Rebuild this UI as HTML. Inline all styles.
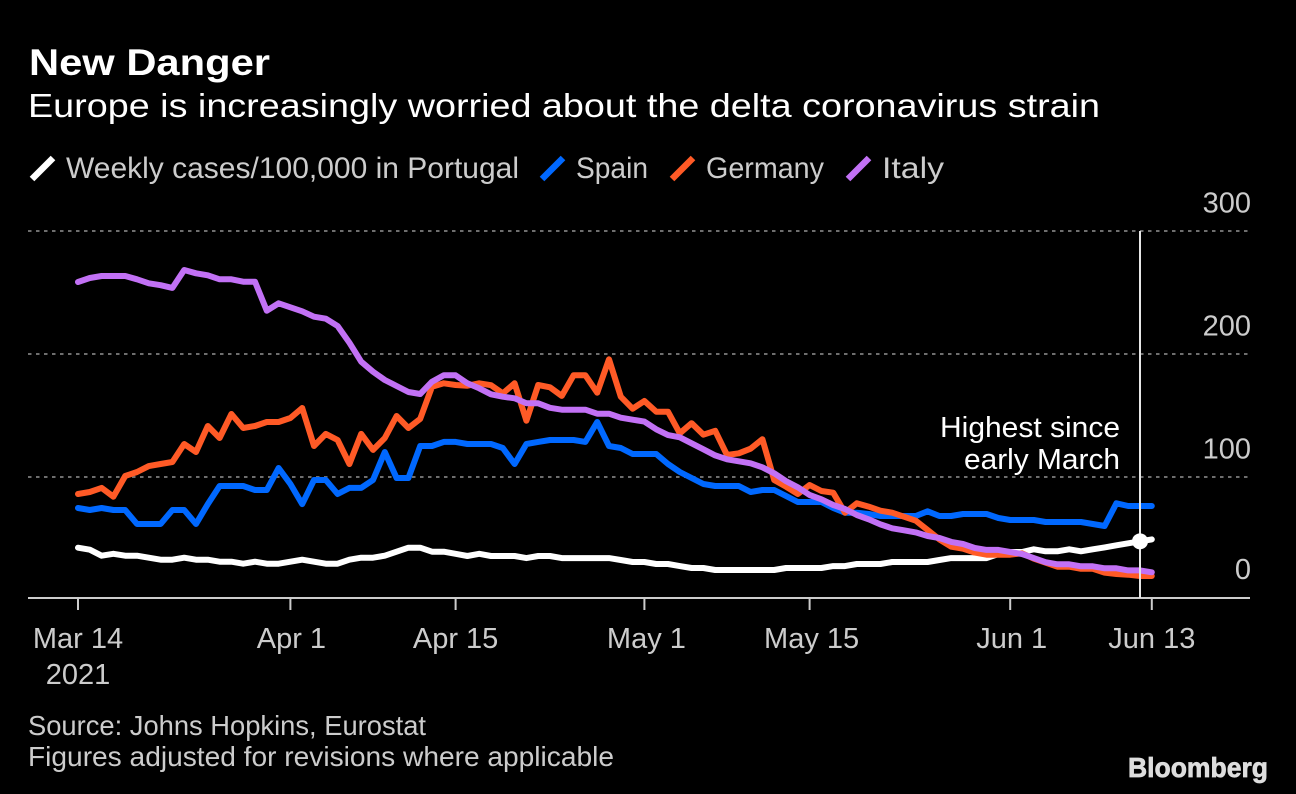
<!DOCTYPE html>
<html lang="en">
<head>
<meta charset="utf-8">
<title>New Danger</title>
<style>
html,body{margin:0;padding:0;background:#000;width:1296px;height:794px;overflow:hidden}
svg{display:block}
text{font-family:"Liberation Sans",sans-serif}
.ttl{font-size:37px;font-weight:700;fill:#fff}
.sub{font-size:33.5px;fill:#fff}
.lab{font-size:29.5px;fill:#ccc}
.tick{font-size:29px;fill:#ccc}
.ann{font-size:29px;fill:#fff}
.src{font-size:27.5px;fill:#ccc}
</style>
</head>
<body>
<svg id="chart" xmlns="http://www.w3.org/2000/svg" width="1296" height="794" viewBox="0 0 1296 794">
  <rect width="1296" height="794" fill="#000"/>
  <text class="ttl" x="29" y="75" textLength="241" lengthAdjust="spacingAndGlyphs">New Danger</text>
  <text class="sub" x="28" y="117" textLength="1072" lengthAdjust="spacingAndGlyphs">Europe is increasingly worried about the delta coronavirus strain</text>

  <line x1="32" y1="179" x2="53" y2="158" stroke="#fff" stroke-width="6.5"/>
  <text class="lab" x="66" y="178" textLength="453" lengthAdjust="spacingAndGlyphs">Weekly cases/100,000 in Portugal</text>
  <line x1="542" y1="179" x2="563" y2="158" stroke="#0068ff" stroke-width="6.5"/>
  <text class="lab" x="576" y="178" textLength="72" lengthAdjust="spacingAndGlyphs">Spain</text>
  <line x1="672" y1="179" x2="693" y2="158" stroke="#ff5a26" stroke-width="6.5"/>
  <text class="lab" x="706" y="178" textLength="118" lengthAdjust="spacingAndGlyphs">Germany</text>
  <line x1="848" y1="179" x2="869" y2="158" stroke="#c271f5" stroke-width="6.5"/>
  <text class="lab" x="882" y="178" textLength="62" lengthAdjust="spacingAndGlyphs">Italy</text>

  <g id="grid"></g>
  <g id="ylabels"></g>
  <line x1="28" y1="598" x2="1250" y2="598" stroke="#ccc" stroke-width="2"/>
  <g id="xticks"></g>
  <g id="series"></g>
  <g id="marker"></g>

  <text class="ann" x="1120" y="437" text-anchor="end" textLength="180" lengthAdjust="spacingAndGlyphs">Highest since</text>
  <text class="ann" x="1120" y="469" text-anchor="end" textLength="156" lengthAdjust="spacingAndGlyphs">early March</text>

  <text class="tick" x="78" y="684" text-anchor="middle">2021</text>
  <text class="src" x="28" y="735" textLength="398" lengthAdjust="spacingAndGlyphs">Source: Johns Hopkins, Eurostat</text>
  <text class="src" x="28" y="766" textLength="586" lengthAdjust="spacingAndGlyphs">Figures adjusted for revisions where applicable</text>
  <text x="1128" y="777" font-size="28" font-weight="700" fill="#ddd" stroke="#ddd" stroke-width="0.7" textLength="140" lengthAdjust="spacingAndGlyphs">Bloomberg</text>
</svg>
<script>
const yTickValues = [0, 100, 200, 300];
const xTickDays = [0, 18, 32, 48, 62, 79, 91];
const xTickLabels = ["Mar 14", "Apr 1", "Apr 15", "May 1", "May 15", "Jun 1", "Jun 13"];
const highlightDay = 90;

const portugal = [
  42.5,40.9,36,37.6,36,36,34.4,32.8,32.8,34.4,
  32.8,32.8,31.1,31.1,29.5,31.1,29.5,29.5,31.1,32.8,
  31.1,29.5,29.5,32.8,34.4,34.4,36,39.3,42.5,42.5,
  39.3,39.3,37.6,35.8,37.6,35.8,35.8,35.8,34.1,35.8,
  35.8,34.1,34.1,34.1,34.1,34.1,32.5,30.9,30.9,29.3,
  29.3,27.6,26,26,24.4,24.4,24.4,24.4,24.4,24.4,
  26,26,26,26,27.6,27.6,29.3,29.3,29.3,30.9,
  30.9,30.9,30.9,32.5,34.1,34.1,34.1,34.1,37.4,39,
  39,41.2,39.6,39.6,41.2,39.6,41.2,42.8,44.5,46.1,
  47.7,49.3
];
const spain = [
  74.8,73.2,74.8,73.2,73.2,61.8,61.8,61.8,73.2,73.2,
  61.8,78,92.7,92.7,92.7,89.4,89.4,107.3,94.3,78,
  97.6,97.6,86.2,91.1,91.1,97.6,120.3,99.2,99.2,125.2,
  125.2,128.5,128.5,126.8,126.8,126.8,123.6,110.6,126.8,128.5,
  130.1,130.1,130.1,128.5,144.7,125.2,123.6,118.7,118.7,118.7,
  110.6,104.1,99.2,94.3,92.7,92.7,92.7,87.8,89.4,89.4,
  84.6,79.7,79.7,79.7,74.8,71,71,69.9,68.3,68.3,
  68.3,68.3,72.1,68.3,68.3,69.9,69.9,69.9,66.7,65,
  65,65,63.4,63.4,63.4,63.4,61.8,60.2,78.6,76.4,
  76.4,76.4
];
const germany = [
  86.2,87.8,91.1,84,100.8,104.1,108.9,110.6,112.2,126.8,
  120.3,141.5,131.7,151.2,139.8,141.5,144.7,144.7,148,156.1,
  125.2,135,130.1,110.6,135,122,131.7,149.6,139.8,147.2,
  173.4,176.2,174.8,174.2,176.2,174.6,168,176.2,145.8,174.8,
  172.9,165.9,182.7,182.7,168.5,195.7,165.3,155.5,161.8,153.1,
  153.1,135.5,143.7,134.4,137.6,117.9,119.3,123,130.7,97.6,
  92.1,86.2,93.5,88.6,87.2,71,78.6,75.9,72.6,71,
  67.7,64.5,56.9,49.3,43.3,41.7,38.5,36.8,36.8,36.8,
  38,33.6,30.3,27.1,27.1,25.4,25.4,22.2,21.1,20.6,
  19.5,19.5
];
const italy = [
  258.5,261.8,263.4,263.4,263.4,260.7,257.5,255.9,253.7,268.3,
  265.6,264,260.7,260.7,258.8,258.8,235.2,241.2,238,234.7,
  230.3,228.7,222.8,209.2,193.7,185.6,178.9,174,169.1,167.5,
  177.5,182.7,182.7,176.2,172.1,167.2,165.3,164,159.9,159.9,
  156.3,154.7,154.7,154.7,151.5,151.5,148.2,146.6,145,138.8,
  134.1,132.3,127.4,122.5,117.6,114.4,112.8,111.1,107.9,103,
  96.7,91.6,85.4,81.9,77.2,74,69.1,65.6,61.5,58.3,
  56.7,55,52,50.4,47.2,45.5,42.3,40.7,40.7,39,
  37.4,34.1,30.7,29,29,27.4,27.4,25.8,25.8,24.1,
  24.1,22.5
];

const NS = "http://www.w3.org/2000/svg";
function xScale(day) { return 78 + day * 11.8; }
function yScale(v) { return 600 - v * 1.23; }
function make(tag, parent, attrs, text) {
  const el = document.createElementNS(NS, tag);
  for (const k in attrs) el.setAttribute(k, attrs[k]);
  if (text !== undefined) el.textContent = text;
  parent.appendChild(el);
  return el;
}

const gridG = document.getElementById("grid");
const yG = document.getElementById("ylabels");
yTickValues.forEach(function (v) {
  if (v !== 0) {
    const g = make("line", gridG, {x1: 28, x2: 1251, y1: yScale(v), y2: yScale(v), stroke: "#6e6e6e", "stroke-width": 2, "stroke-dasharray": "3.5 4.5"});
    
    
  }
  const t = make("text", yG, {class: "tick", x: 1251, y: yScale(v) - (v === 0 ? 21 : 18.5), "text-anchor": "end"}, String(v));
  
  
});

const xG = document.getElementById("xticks");
xTickDays.forEach(function (d, i) {
  const tickMark = make("line", xG, {x1: xScale(d), x2: xScale(d), y1: 598, y2: 610, stroke: "#ccc", "stroke-width": 2});
  
  
  const offset = i === 3 ? 2 : (i === 4 ? 2 : (i === 5 ? 1.5 : (i === 1 ? 1 : 0)));
  const label = make("text", xG, {class: "tick", x: xScale(d) + offset, y: 648, "text-anchor": "middle"}, xTickLabels[i]);
  
  
});

const seriesG = document.getElementById("series");
function drawLine(values, color, name) {
  const pts = values.map(function (v, i) { return xScale(i).toFixed(1) + "," + yScale(v).toFixed(1); }).join(" ");
  const line = make("polyline", seriesG, {points: pts, fill: "none", stroke: color, "stroke-width": 6, "stroke-linejoin": "round", "stroke-linecap": "round"});
  
  
}
drawLine(portugal, "#ffffff", "line-portugal");
drawLine(spain, "#0068ff", "line-spain");
drawLine(germany, "#ff5a26", "line-germany");
drawLine(italy, "#c271f5", "line-italy");

const markerG = document.getElementById("marker");
const markerX = xScale(highlightDay);
const rule = make("line", markerG, {x1: markerX, x2: markerX, y1: yScale(300), y2: 598, stroke: "#e6e6e6", "stroke-width": 2});


const dot = make("circle", markerG, {cx: markerX, cy: yScale(portugal[highlightDay]), r: 8, fill: "#fff"});


</script>
</body>
</html>
